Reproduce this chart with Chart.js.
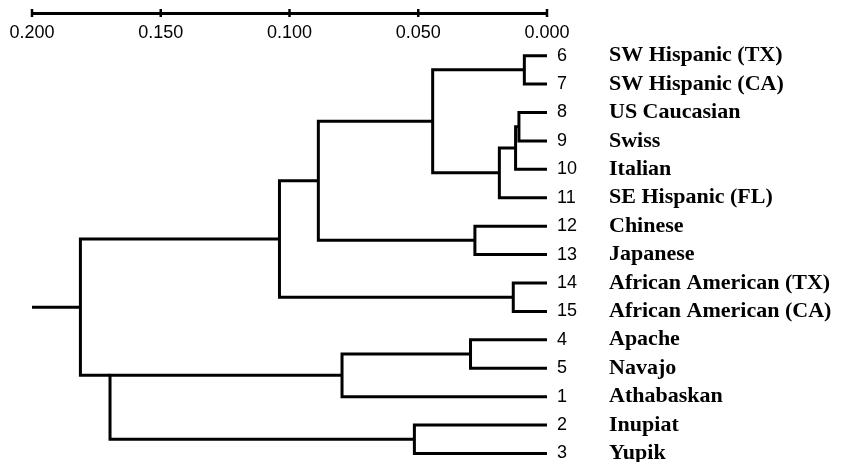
<!DOCTYPE html>
<html>
<head>
<meta charset="utf-8">
<script src="https://cdn.jsdelivr.net/npm/chart.js@4"></script>
<style>
  html, body { margin: 0; padding: 0; background: #fff; }
  #wrap { width: 841px; height: 462px; }
</style>
</head>
<body>
<div id="wrap"><canvas id="dendro" width="841" height="462"></canvas></div>
<script>
// leaves, top to bottom
const leafIds = [6, 7, 8, 9, 10, 11, 12, 13, 14, 15, 4, 5, 1, 2, 3];
const leafNames = [
    'SW Hispanic (TX)', 'SW Hispanic (CA)', 'US Caucasian', 'Swiss', 'Italian',
    'SE Hispanic (FL)', 'Chinese', 'Japanese', 'African American (TX)',
    'African American (CA)', 'Apache', 'Navajo', 'Athabaskan', 'Inupiat', 'Yupik'
];

// merges (hclust style): negative = leaf id, positive = earlier merge number
const mergeLeft   = [-6, -8, 2, -14, 3, -12, -4, 1, -2, 7, 8, 11, 10, 12];
const mergeRight  = [-7, -9, -10, -15, -11, -13, -5, 5, -3, -1, 6, 4, 9, 13];
const mergeHeight = [0.0088, 0.0109, 0.0122, 0.0131, 0.0185, 0.0280, 0.0297,
                     0.0444, 0.0515, 0.0796, 0.0888, 0.1039, 0.1697, 0.1812];
// merges drawn joined at their upper branch instead of the middle
const anchorTop = [13];
const rootTo = 0.200;

const xTicks = [0, 0.05, 0.10, 0.15, 0.20];

// build the elbow segments
const nodeY = [];
const datasets = [];
function childPos(ref) {
    if (ref < 0) return { x: 0, y: leafIds.indexOf(-ref) };
    return { x: mergeHeight[ref - 1], y: nodeY[ref - 1] };
}
mergeLeft.forEach((l, i) => {
    const a = childPos(l);
    const b = childPos(mergeRight[i]);
    const h = mergeHeight[i];
    nodeY[i] = anchorTop.includes(i + 1) ? Math.min(a.y, b.y) : (a.y + b.y) / 2;
    datasets.push({
        data: [{ x: a.x, y: a.y }, { x: h, y: a.y }, { x: h, y: b.y }, { x: b.x, y: b.y }]
    });
});
const last = mergeHeight.length - 1;
datasets.push({
    data: [{ x: mergeHeight[last], y: nodeY[last] }, { x: rootTo, y: nodeY[last] }]
});
datasets.forEach(d => Object.assign(d, {
    showLine: true,
    pointRadius: 0,
    borderColor: '#000',
    borderWidth: 3,
    borderJoinStyle: 'miter',
    borderCapStyle: 'butt',
    fill: false,
    clip: false
}));

// tick marks that cross the axis line
const crossTicks = {
    id: 'crossTicks',
    afterDraw(chart) {
        const s = chart.scales.x;
        const ctx = chart.ctx;
        ctx.save();
        ctx.strokeStyle = '#000';
        ctx.lineWidth = 2.5;
        s.ticks.forEach(t => {
            const px = s.getPixelForValue(t.value);
            ctx.beginPath();
            ctx.moveTo(px, s.bottom - 4);
            ctx.lineTo(px, s.bottom + 4);
            ctx.stroke();
        });
        ctx.restore();
    }
};

const yRange = { min: -1.5, max: 14.3, reverse: true };
const noGrid = { display: false, drawTicks: false, tickLength: 0 };

new Chart(document.getElementById('dendro'), {
    type: 'scatter',
    data: { datasets },
    plugins: [crossTicks],
    options: {
        responsive: false,
        devicePixelRatio: 1,
        animation: false,
        layout: { padding: { left: 32, top: 0, right: 0, bottom: 0 } },
        plugins: { legend: { display: false }, tooltip: { enabled: false } },
        scales: {
            x: {
                type: 'linear',
                position: 'top',
                min: 0,
                max: 0.2,
                reverse: true,
                afterBuildTicks: s => { s.ticks = xTicks.map(v => ({ value: v })); },
                afterFit: s => { s.height = 13; s.paddingLeft = 0; s.paddingRight = 0; },
                grid: { display: true, drawOnChartArea: false, drawTicks: false },
                border: { display: true, color: '#000', width: 3 },
                ticks: {
                    mirror: true,
                    padding: 9,
                    autoSkip: false,
                    maxRotation: 0,
                    color: '#000',
                    font: { family: 'Arial, "Liberation Sans", sans-serif', size: 18 },
                    callback: v => Number(v).toFixed(3)
                }
            },
            y: {
                type: 'linear',
                position: 'right',
                ...yRange,
                afterBuildTicks: s => { s.ticks = leafIds.map((_, i) => ({ value: i })); },
                afterFit: s => { s.width = 58; s.paddingTop = 0; s.paddingBottom = 0; },
                grid: noGrid,
                border: { display: false },
                ticks: {
                    padding: 10,
                    autoSkip: false,
                    color: '#000',
                    font: { family: 'Arial, "Liberation Sans", sans-serif', size: 18 },
                    callback: v => leafIds[v]
                }
            },
            yName: {
                type: 'linear',
                position: 'right',
                ...yRange,
                afterBuildTicks: s => { s.ticks = leafNames.map((_, i) => ({ value: i })); },
                afterFit: s => { s.width = 236; s.paddingTop = 0; s.paddingBottom = 0; },
                grid: noGrid,
                border: { display: false },
                ticks: {
                    padding: 4,
                    autoSkip: false,
                    color: '#000',
                    font: { family: '"Times New Roman", "Liberation Serif", serif', size: 22, weight: 'bold' },
                    callback: v => leafNames[v]
                }
            }
        }
    }
});
</script>
</body>
</html>
